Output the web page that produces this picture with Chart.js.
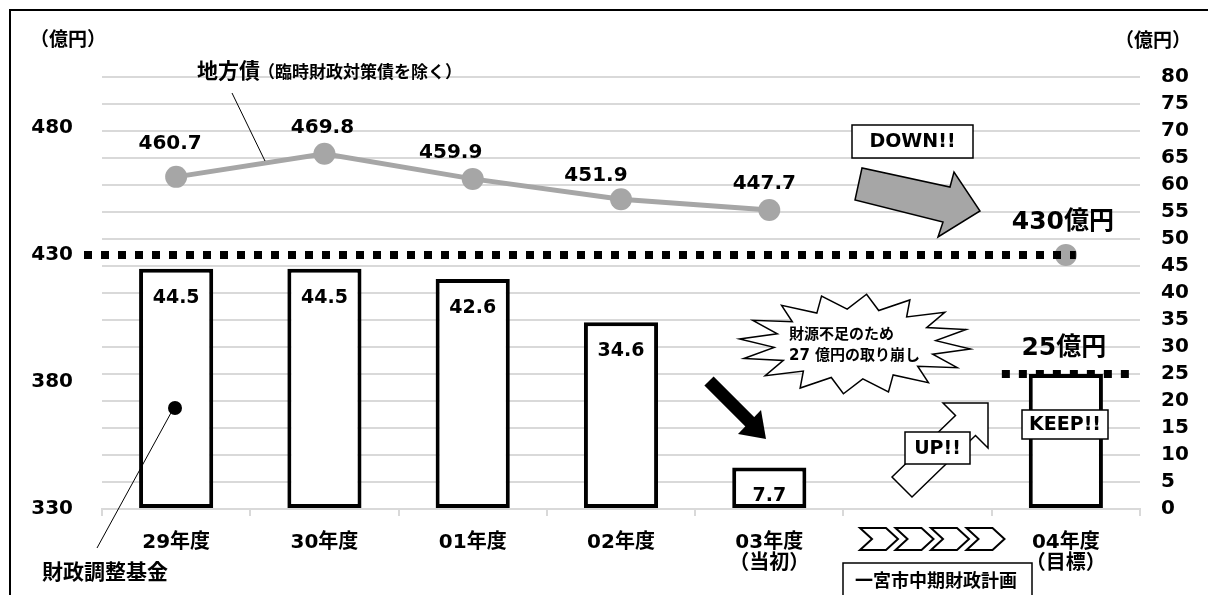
<!DOCTYPE html>
<html>
<head>
<meta charset="utf-8">
<script src="https://cdn.jsdelivr.net/npm/chart.js@4.4.0/dist/chart.umd.min.js"></script>
<style>
html,body{margin:0;padding:0;background:#fff;}
#wrap{width:1208px;height:595px;}
</style>
</head>
<body>
<div id="wrap"><canvas id="barChart" width="1208" height="595"></canvas></div>
<script>
// categories (x axis)
var categories = ['29年度', '30年度', '01年度', '02年度', ['03年度', '（当初）'], '', ['04年度', '（目標）']];
// 地方債 (left axis, 億円)
var chihousaiValues = [460.7, 469.8, 459.9, 451.9, 447.7, null, 430];
// 財政調整基金 (right axis, 億円)
var kikinValues = [44.5, 44.5, 42.6, 34.6, 7.7, null, 25];
// tick labels
var leftTicks = [330, 380, 430, 480];
var rightTicks = [0, 5, 10, 15, 20, 25, 30, 35, 40, 45, 50, 55, 60, 65, 70, 75, 80];

var FAMILY = '"DejaVu Sans", "Noto Sans CJK JP", sans-serif';
function font(size){ return 'bold ' + size + 'px ' + FAMILY; }

// label nudges for the line values (moved by hand in the original)
var lineLabelShift = [[-6, -33], [-2, -26], [-22, -26], [-25, -23], [-5, -26]];

function poly(ctx, pts, fill, stroke, lw){
	ctx.beginPath();
	ctx.moveTo(pts[0][0], pts[0][1]);
	for (var i = 1; i < pts.length; i++) ctx.lineTo(pts[i][0], pts[i][1]);
	ctx.closePath();
	if (fill){ ctx.fillStyle = fill; ctx.fill(); }
	if (stroke){ ctx.strokeStyle = stroke; ctx.lineWidth = lw || 1; ctx.stroke(); }
}

function line(ctx, x1, y1, x2, y2, lw){
	ctx.beginPath();
	ctx.moveTo(x1, y1);
	ctx.lineTo(x2, y2);
	ctx.strokeStyle = '#000';
	ctx.lineWidth = lw || 1;
	ctx.stroke();
}

function dotted(ctx, x1, x2, y){
	ctx.save();
	ctx.setLineDash([8, 9]);
	ctx.lineCap = 'butt';
	line(ctx, x1, y, x2, y, 8);
	ctx.restore();
}

function text(ctx, str, x, y, size, align){
	ctx.font = font(size);
	ctx.fillStyle = '#000';
	ctx.textAlign = align || 'center';
	ctx.textBaseline = 'middle';
	ctx.fillText(str, x, y);
}

function box(ctx, x, y, w, h, str, size){
	ctx.fillStyle = '#fff';
	ctx.fillRect(x, y, w, h);
	ctx.strokeStyle = '#000';
	ctx.lineWidth = 1.5;
	ctx.strokeRect(x, y, w, h);
	if (str) text(ctx, str, x + w / 2, y + h / 2 + 1, size);
}

var framePlugin = {
	id: 'frame',
	beforeDraw: function(chart){
		var ctx = chart.ctx;
		ctx.save();
		ctx.fillStyle = '#fff';
		ctx.fillRect(0, 0, chart.width, chart.height);
		ctx.beginPath();
		ctx.moveTo(10, 600);
		ctx.lineTo(10, 10);
		ctx.lineTo(1210, 10);
		ctx.strokeStyle = '#000';
		ctx.lineWidth = 2;
		ctx.stroke();
		ctx.restore();
	}
};

var decorPlugin = {
	id: 'decor',
	afterDatasetsDraw: function(chart){
		var ctx = chart.ctx;
		var x = chart.scales.x, yL = chart.scales.yL, yR = chart.scales.yR;
		var lineMeta = chart.getDatasetMeta(0);
		var barMeta = chart.getDatasetMeta(1);
		var last = categories.length - 1;
		ctx.save();

		// target lines
		dotted(ctx, 84, x.getPixelForValue(last) + 10, yL.getPixelForValue(430));
		dotted(ctx, x.getPixelForValue(last) - 64, x.getPixelForValue(last) + 64, yR.getPixelForValue(25));

		// line values
		var k = 0;
		lineMeta.data.forEach(function(pt, i){
			var v = chihousaiValues[i];
			if (v === null) return;
			if (i === last){
				text(ctx, v + '億円', pt.x - 3, pt.y - 32, 25);
			} else {
				var s = lineLabelShift[k++] || [0, -28];
				text(ctx, v.toFixed(1), pt.x + s[0], pt.y + s[1], 20);
			}
		});
		// bar values
		barMeta.data.forEach(function(bar, i){
			var v = kikinValues[i];
			if (v === null) return;
			if (i === last){
				text(ctx, v + '億円', bar.x - 2, bar.y - 26, 25);
			} else {
				text(ctx, v.toFixed(1), bar.x, bar.y + 29, 19);
			}
		});

		// axis units
		text(ctx, '（億円）', 30, 41, 19, 'left');
		text(ctx, '（億円）', 1115, 42, 19, 'left');

		// series names
		text(ctx, '地方債', 197, 73, 21, 'left');
		text(ctx, '（臨時財政対策債を除く）', 258, 74, 17, 'left');
		line(ctx, 232, 93, 265, 161, 1);
		text(ctx, '財政調整基金', 42, 574, 21, 'left');
		line(ctx, 97, 548, 172, 411, 1);
		ctx.beginPath();
		ctx.arc(175, 408, 7, 0, Math.PI * 2);
		ctx.fillStyle = '#000';
		ctx.fill();

		// DOWN arrow
		box(ctx, 852, 125, 121, 33, 'DOWN!!', 19);
		poly(ctx, [[862, 168], [855, 200], [943, 222], [938, 237], [980, 211], [954, 172], [950, 187]], '#a6a6a6', '#000', 1.5);

		// black arrow to 03
		line(ctx, 709, 381, 752, 424, 13);
		poly(ctx, [[766, 439], [738, 434], [761, 410]], '#000');

		// burst
		var cx = 855, cy = 344, n = 16, pts = [];
		for (var j = 0; j < n * 2; j++){
			var a = Math.PI * j / n + 0.1;
			var r = (j % 2 === 0) ? 1 : 0.7;
			pts.push([cx + Math.cos(a) * 116 * r, cy + Math.sin(a) * 50 * r]);
		}
		poly(ctx, pts, '#fff', '#000', 1.5);
		text(ctx, '財源不足のため', 789, 335, 15, 'left');
		text(ctx, '27 億円の取り崩し', 789, 356, 15, 'left');

		// UP arrow (hollow)
		var tip = [988, 403], base = [965.5, 425.5], tail = [902, 487], h = 10;
		poly(ctx, [[tail[0] - h, tail[1] - h], [base[0] - h, base[1] - h], [tip[0] - 45, tip[1]], tip,
			[tip[0], tip[1] + 45], [base[0] + h, base[1] + h], [tail[0] + h, tail[1] + h]], '#fff', '#000', 1.5);
		box(ctx, 905, 432, 65, 32, 'UP!!', 19);

		// KEEP
		box(ctx, 1022, 410, 86, 29, 'KEEP!!', 19);

		// chevrons
		for (var c = 0; c < 4; c++){
			var cx0 = 860 + c * 35.5, t = 528, b = 550, m = (t + b) / 2;
			poly(ctx, [[cx0, t], [cx0 + 26, t], [cx0 + 38, m], [cx0 + 26, b], [cx0, b], [cx0 + 12, m]], '#fff', '#000', 2);
		}
		box(ctx, 843, 563, 189, 40, null);
		text(ctx, '一宮市中期財政計画', 936, 582, 18);

		ctx.restore();
	}
};

var barChart = new Chart(document.getElementById('barChart').getContext('2d'), {
	type: 'bar',
	data: {
		labels: categories,
		datasets: [
			{
				type: 'line',
				label: '地方債',
				data: chihousaiValues,
				yAxisID: 'yL',
				borderColor: '#a6a6a6',
				borderWidth: 5,
				pointRadius: 11,
				pointHoverRadius: 11,
				pointBackgroundColor: '#a6a6a6',
				pointBorderWidth: 0,
				spanGaps: false,
				tension: 0
			},
			{
				type: 'bar',
				label: '財政調整基金',
				data: kikinValues,
				yAxisID: 'yR',
				backgroundColor: '#fff',
				borderColor: '#000',
				borderWidth: 4,
				borderSkipped: false,
				barPercentage: 0.5,
				categoryPercentage: 1
			}
		]
	},
	options: {
		responsive: false,
		animation: false,
		layout: { padding: { top: 77, left: 0, right: 0, bottom: 0 } },
		plugins: { legend: { display: false }, tooltip: { enabled: false } },
		scales: {
			x: {
				grid: { offset: true, drawOnChartArea: false, drawTicks: true, tickLength: 7, color: '#d9d9d9', lineWidth: 2 },
				border: { color: '#d9d9d9', width: 2 },
				ticks: { color: '#000', font: { family: FAMILY, size: 20, weight: 'bold', lineHeight: 1.05 }, padding: 16, maxRotation: 0, autoSkip: false },
				afterFit: function(s){ s.height = 86; }
			},
			yL: {
				position: 'left',
				min: 330,
				max: 500,
				grid: { display: false, drawTicks: false },
				border: { display: false },
				ticks: { color: '#000', font: { family: FAMILY, size: 20, weight: 'bold' }, padding: 29 },
				afterBuildTicks: function(s){ s.ticks = leftTicks.map(function(v){ return { value: v }; }); },
				afterFit: function(s){ s.width = 102; }
			},
			yR: {
				position: 'right',
				min: 0,
				max: 80,
				grid: { color: '#d9d9d9', lineWidth: 2, drawTicks: false },
				border: { display: false },
				ticks: { color: '#000', font: { family: FAMILY, size: 20, weight: 'bold' }, padding: 21 },
				afterBuildTicks: function(s){ s.ticks = rightTicks.map(function(v){ return { value: v }; }); },
				afterFit: function(s){ s.width = 68; }
			}
		}
	},
	plugins: [framePlugin, decorPlugin]
});
</script>
</body>
</html>
